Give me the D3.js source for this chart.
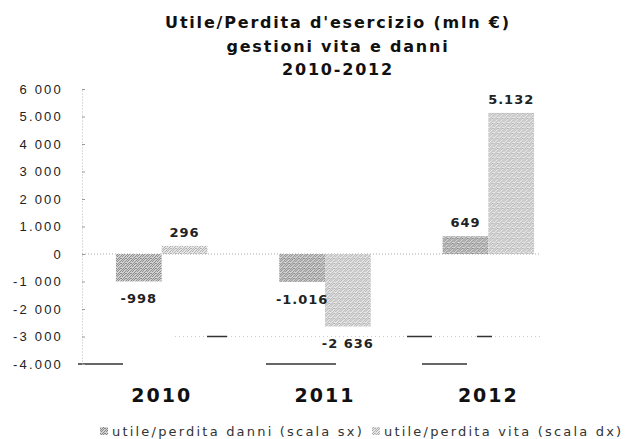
<!DOCTYPE html>
<html>
<head>
<meta charset="utf-8">
<style>
  body { margin: 0; background: #fff; }
  svg { font-family: "DejaVu Sans", sans-serif; }
  .title { font-size: 16px; font-weight: bold; letter-spacing: 1.8px; fill: #111; }
  .y-axis text { font-size: 13px; letter-spacing: 2.2px; fill: #222; }
  .y-axis path { stroke: #bbb; stroke-dasharray: 1,2; }
  .y-axis line { stroke: #999; }
  .cat { font-size: 19px; font-weight: bold; letter-spacing: 2px; fill: #111; }
  .val { font-size: 13px; font-weight: bold; letter-spacing: 1px; fill: #222; }
  .legend text { font-size: 13px; letter-spacing: 2.2px; fill: #333; }
</style>
</head>
<body>
<svg width="642" height="439"></svg>
<script src="https://cdn.jsdelivr.net/npm/d3@7/dist/d3.min.js"></script>
<script>

var titleLines = ["Utile/Perdita d'esercizio (mln €)", "gestioni vita e danni", "2010-2012"];
var years = ["2010", "2011", "2012"];
var series = ["danni", "vita"];
var danni = [-998, -1016, 649];
var vita = [296, -2636, 5132];
var danniLabels = ["-998", "-1.016", "649"];
var vitaLabels = ["296", "-2 636", "5.132"];
var tickValues = [6000, 5000, 4000, 3000, 2000, 1000, 0, -1000, -2000, -3000, -4000];
var tickLabels = ["6 000", "5.000", "4 000", "3 000", "2 000", "1.000", "0", "-1 000", "-2 000", "-3 000", "-4.000"];
var legendNames = ["utile/perdita danni (scala sx)", "utile/perdita vita (scala dx)"];

var svg = d3.select("svg");

// speckled fills, like the scanned original
var defs = svg.append("defs");
var speck = [[0, 0], [2, 0], [1, 1], [4, 1], [3, 2], [0, 3], [2, 3], [4, 3], [1, 4], [3, 4]];
function dither(id, bg, dot) {
  var p = defs.append("pattern").attr("id", id)
      .attr("patternUnits", "userSpaceOnUse").attr("width", 5).attr("height", 5);
  p.append("rect").attr("width", 5).attr("height", 5).attr("fill", bg);
  speck.forEach(function(s) {
    p.append("rect").attr("x", s[0]).attr("y", s[1]).attr("width", 1).attr("height", 1).attr("fill", dot);
  });
}
dither("pDanni", "#d2d2d2", "#8a8a8a");
dither("pVita", "#e6e6e6", "#b2b2b2");
var fills = { danni: "url(#pDanni)", vita: "url(#pVita)" };

var x0 = d3.scaleBand().domain(years).range([80, 570]).paddingInner(0.44).paddingOuter(0.22);
var x1 = d3.scaleBand().domain(series).range([0, x0.bandwidth()]);
var y = d3.scaleLinear().domain([-4000, 6000]).range([364, 89]);

// title
svg.selectAll(".title").data(titleLines).enter().append("text")
    .attr("class", "title")
    .attr("x", 338)
    .attr("y", function(d, i) { return 28 + i * 23.5; })
    .attr("text-anchor", "middle")
    .text(function(d) { return d; });

// faint grid remnants
var xEnd = x0.range()[1] - 30;
svg.append("line")
    .attr("x1", 82).attr("x2", xEnd).attr("y1", y(0)).attr("y2", y(0))
    .attr("stroke", "#aaa").attr("stroke-dasharray", "1,2");
svg.append("line")
    .attr("x1", 175).attr("x2", xEnd).attr("y1", y(-3000)).attr("y2", y(-3000))
    .attr("stroke", "#ccc").attr("stroke-dasharray", "1,3");
svg.append("line")
    .attr("x1", 207).attr("x2", xEnd).attr("y1", y(-3000)).attr("y2", y(-3000))
    .attr("stroke", "#333").attr("stroke-width", 1.5).attr("stroke-dasharray", "20,180,25,45,15,200");
svg.append("line")
    .attr("x1", 78).attr("x2", xEnd).attr("y1", y(-4000)).attr("y2", y(-4000))
    .attr("stroke", "#333").attr("stroke-width", 1.5).attr("stroke-dasharray", "45,143,70,86,45,200");

// y axis
svg.append("g")
    .attr("class", "y-axis")
    .attr("transform", "translate(82,0)")
    .call(d3.axisLeft(y).tickValues(tickValues)
      .tickFormat(function(d, i) { return tickLabels[i]; })
      .tickSizeInner(-3).tickSizeOuter(0).tickPadding(19));

// bars
var rows = years.map(function(yr, i) {
  return [
    { year: yr, key: "danni", value: danni[i], label: danniLabels[i] },
    { year: yr, key: "vita", value: vita[i], label: vitaLabels[i] }
  ];
});

var groups = svg.selectAll(".grp").data(rows).enter().append("g")
    .attr("class", "grp")
    .attr("transform", function(d) { return "translate(" + x0(d[0].year) + ",0)"; });

groups.selectAll("rect").data(function(d) { return d; }).enter().append("rect")
    .attr("x", function(d) { return x1(d.key); })
    .attr("width", x1.bandwidth())
    .attr("y", function(d) { return y(Math.max(0, d.value)); })
    .attr("height", function(d) { return Math.abs(y(d.value) - y(0)); })
    .attr("fill", function(d) { return fills[d.key]; });

groups.selectAll(".val").data(function(d) { return d; }).enter().append("text")
    .attr("class", "val")
    .attr("text-anchor", "middle")
    .attr("x", function(d) { return x1(d.key) + x1.bandwidth() / 2; })
    .attr("y", function(d) { return d.value >= 0 ? y(d.value) - 9 : y(d.value) + 22; })
    .text(function(d) { return d.label; });

// category labels
svg.selectAll(".cat").data(years).enter().append("text")
    .attr("class", "cat")
    .attr("text-anchor", "middle")
    .attr("x", function(d) { return x0(d) + x0.bandwidth() / 2; })
    .attr("y", 402)
    .text(function(d) { return d; });

// legend
var leg = svg.append("g").attr("class", "legend");
var legX = [100, 372];
series.forEach(function(s, i) {
  leg.append("rect").attr("x", legX[i]).attr("y", 427).attr("width", 8).attr("height", 8)
      .attr("fill", fills[s]);
  leg.append("text").attr("x", legX[i] + 12).attr("y", 436).text(legendNames[i]);
});

</script>
</body>
</html>
